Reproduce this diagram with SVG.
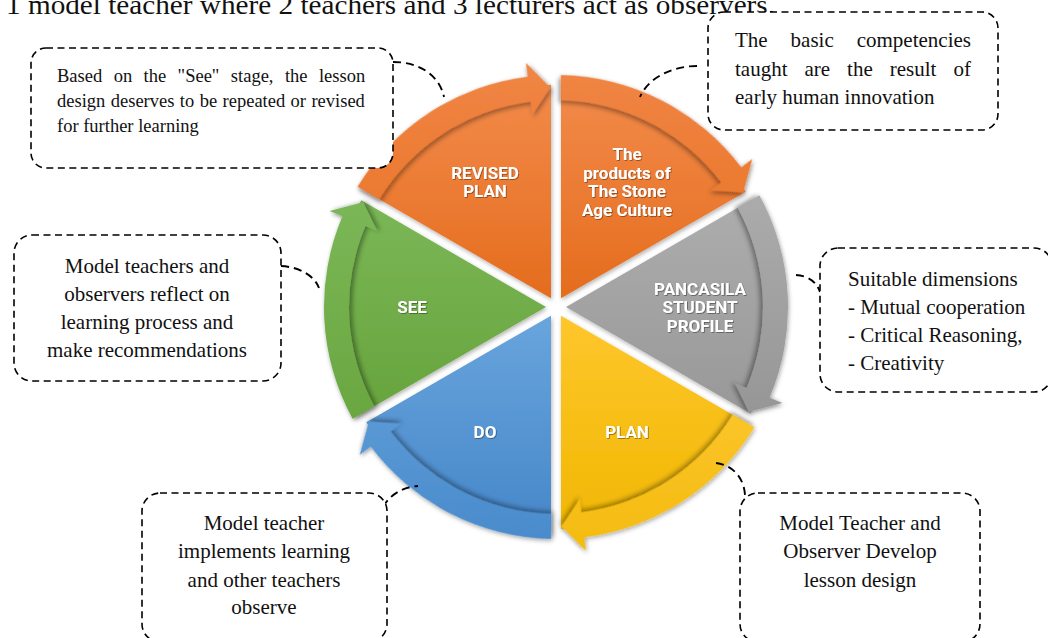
<svg xmlns="http://www.w3.org/2000/svg" xmlns:xlink="http://www.w3.org/1999/xlink" width="1048" height="638" viewBox="0 0 1048 638">
  <style>
    .serif { font-family: "Liberation Serif", "Times New Roman", serif; fill: #111; }
    .lbl { font-family: Roboto, "Open Sans", "DejaVu Sans", sans-serif; font-weight: 700; font-size: 17px; fill: #fff; text-anchor: middle; filter: url(#textShadow); }
    .box { fill: #fff; stroke: #000; stroke-width: 1.6; stroke-dasharray: 7 4.5; }
    .conn { fill: none; stroke: #000; stroke-width: 1.9; stroke-dasharray: 8 5; }
    .mid { text-anchor: middle; }
  </style>
  <defs>
    <!-- one 60 degree slice, bisector along +x, centred on the wheel origin -->
    <path id="wedge" d="M10,0 L194.7,-106.64 A222,222 0 0 1 194.7,106.64 Z"/>
    <!-- curved arrow running clockwise along the slice rim -->
    <path id="band" d="M203.37,-111.64 A232,232 0 0 1 213.56,90.65 L226.44,96.12 L192.9,104.75 L178.58,75.8 L190.54,80.88 A207,207 0 0 0 181.71,-99.14 Z"/>

    <filter id="bandShadow" x="-30%" y="-30%" width="160%" height="160%">
      <feDropShadow dx="-3" dy="0" stdDeviation="2.5" flood-color="#000" flood-opacity="0.38"/>
    </filter>
    <filter id="wheelShadow" x="-10%" y="-10%" width="120%" height="120%">
      <feDropShadow dx="1" dy="2" stdDeviation="2" flood-color="#000" flood-opacity="0.3"/>
    </filter>
    <filter id="textShadow" x="-10%" y="-30%" width="120%" height="160%">
      <feDropShadow dx="0.8" dy="0.8" stdDeviation="0.6" flood-color="#000" flood-opacity="0.45"/>
    </filter>

    <!-- fills: vertical in page space, counter-rotated per slice -->
    <linearGradient id="wRevised" gradientUnits="userSpaceOnUse" x1="0" y1="-232" x2="0" y2="0" gradientTransform="rotate(120)">
      <stop offset="0" stop-color="#F38C4D"/><stop offset="1" stop-color="#E46B1B"/>
    </linearGradient>
    <linearGradient id="bRevised" gradientUnits="userSpaceOnUse" x1="0" y1="-232" x2="0" y2="0" gradientTransform="rotate(120)">
      <stop offset="0" stop-color="#F08443"/><stop offset="1" stop-color="#E7701F"/>
    </linearGradient>
    <linearGradient id="wProducts" gradientUnits="userSpaceOnUse" x1="0" y1="-232" x2="0" y2="0" gradientTransform="rotate(60)">
      <stop offset="0" stop-color="#F38C4D"/><stop offset="1" stop-color="#E46B1B"/>
    </linearGradient>
    <linearGradient id="bProducts" gradientUnits="userSpaceOnUse" x1="0" y1="-232" x2="0" y2="0" gradientTransform="rotate(60)">
      <stop offset="0" stop-color="#F08443"/><stop offset="1" stop-color="#E7701F"/>
    </linearGradient>
    <linearGradient id="wGray" gradientUnits="userSpaceOnUse" x1="0" y1="-120" x2="0" y2="120">
      <stop offset="0" stop-color="#AEAEAE"/><stop offset="1" stop-color="#979797"/>
    </linearGradient>
    <linearGradient id="bGray" gradientUnits="userSpaceOnUse" x1="0" y1="-120" x2="0" y2="120">
      <stop offset="0" stop-color="#ACACAC"/><stop offset="1" stop-color="#959595"/>
    </linearGradient>
    <linearGradient id="wYellow" gradientUnits="userSpaceOnUse" x1="0" y1="0" x2="0" y2="232" gradientTransform="rotate(-60)">
      <stop offset="0" stop-color="#FFC72E"/><stop offset="1" stop-color="#F0B700"/>
    </linearGradient>
    <linearGradient id="bYellow" gradientUnits="userSpaceOnUse" x1="0" y1="0" x2="0" y2="232" gradientTransform="rotate(-60)">
      <stop offset="0" stop-color="#FFCB40"/><stop offset="1" stop-color="#F5BC10"/>
    </linearGradient>
    <linearGradient id="wBlue" gradientUnits="userSpaceOnUse" x1="0" y1="0" x2="0" y2="232" gradientTransform="rotate(-120)">
      <stop offset="0" stop-color="#6AA6DE"/><stop offset="1" stop-color="#4586C8"/>
    </linearGradient>
    <linearGradient id="bBlue" gradientUnits="userSpaceOnUse" x1="0" y1="0" x2="0" y2="232" gradientTransform="rotate(-120)">
      <stop offset="0" stop-color="#68A5DD"/><stop offset="1" stop-color="#4A8BCC"/>
    </linearGradient>
    <linearGradient id="wGreen" gradientUnits="userSpaceOnUse" x1="0" y1="-120" x2="0" y2="120" gradientTransform="rotate(-180)">
      <stop offset="0" stop-color="#7CB858"/><stop offset="1" stop-color="#66A33C"/>
    </linearGradient>
    <linearGradient id="bGreen" gradientUnits="userSpaceOnUse" x1="0" y1="-120" x2="0" y2="120" gradientTransform="rotate(-180)">
      <stop offset="0" stop-color="#7CB858"/><stop offset="1" stop-color="#69A640"/>
    </linearGradient>
  </defs>

  <rect x="0" y="0" width="1048" height="638" fill="#fff"/>

  <text class="serif" x="6" y="13.5" font-size="28" textLength="769" lengthAdjust="spacingAndGlyphs">1 model teacher where 2 teachers and 3 lecturers act as observers.</text>

  <!-- cycle wheel -->
  <g id="wheel" filter="url(#wheelShadow)">
    <g id="node-revised-plan">
      <g transform="translate(556 307) rotate(-120)">
        <use href="#wedge" fill="url(#wRevised)"/>
        <use href="#band" fill="url(#bRevised)" filter="url(#bandShadow)"/>
      </g>
      <text class="lbl" x="485" y="179">REVISED</text>
      <text class="lbl" x="485" y="197">PLAN</text>
    </g>
    <g id="node-stone-age">
      <g transform="translate(556 307) rotate(-60)">
        <use href="#wedge" fill="url(#wProducts)"/>
        <use href="#band" fill="url(#bProducts)" filter="url(#bandShadow)"/>
      </g>
      <text class="lbl" x="627" y="160">The</text>
      <text class="lbl" x="627" y="179">products of</text>
      <text class="lbl" x="627" y="197">The Stone</text>
      <text class="lbl" x="627" y="216">Age Culture</text>
    </g>
    <g id="node-pancasila">
      <g transform="translate(556 307)">
        <use href="#wedge" fill="url(#wGray)"/>
        <use href="#band" fill="url(#bGray)" filter="url(#bandShadow)"/>
      </g>
      <text class="lbl" x="700" y="295">PANCASILA</text>
      <text class="lbl" x="700" y="313">STUDENT</text>
      <text class="lbl" x="700" y="332">PROFILE</text>
    </g>
    <g id="node-plan">
      <g transform="translate(556 307) rotate(60)">
        <use href="#wedge" fill="url(#wYellow)"/>
        <use href="#band" fill="url(#bYellow)" filter="url(#bandShadow)"/>
      </g>
      <text class="lbl" x="627" y="438">PLAN</text>
    </g>
    <g id="node-do">
      <g transform="translate(556 307) rotate(120)">
        <use href="#wedge" fill="url(#wBlue)"/>
        <use href="#band" fill="url(#bBlue)" filter="url(#bandShadow)"/>
      </g>
      <text class="lbl" x="485" y="438">DO</text>
    </g>
    <g id="node-see">
      <g transform="translate(556 307) rotate(180)">
        <use href="#wedge" fill="url(#wGreen)"/>
        <use href="#band" fill="url(#bGreen)" filter="url(#bandShadow)"/>
      </g>
      <text class="lbl" x="412" y="313">SEE</text>
    </g>
  </g>

  <!-- dashed leader lines from the notes to the slices -->
  <g id="connectors">
    <path class="conn" d="M393,62 C418,62 439,74 444,97"/>
    <path class="conn" d="M281,266 C299,267 314,275 319,288"/>
    <path class="conn" d="M697,66 C672,66 648,78 640,97"/>
    <path class="conn" d="M796,275 C808,276 816,281 820,292"/>
    <path class="conn" d="M383,507 C390,495 402,487 418,486"/>
    <path class="conn" d="M716,463 C733,465 744,478 745,495"/>
  </g>

  <!-- notes -->
  <g id="note-revised">
    <rect class="box" x="31" y="48" width="362" height="120" rx="15"/>
    <text class="serif" font-size="18.5" x="57" y="82" word-spacing="6.8">Based on the "See" stage, the lesson</text>
    <text class="serif" font-size="18.5" x="57" y="107" word-spacing="0.8">design deserves to be repeated or revised</text>
    <text class="serif" font-size="18.5" x="57" y="132">for further learning</text>
  </g>
  <g id="note-see">
    <rect class="box" x="14" y="235" width="267" height="146" rx="18"/>
    <text class="serif mid" font-size="21" x="147" y="273">Model teachers and</text>
    <text class="serif mid" font-size="21" x="147" y="301">observers reflect on</text>
    <text class="serif mid" font-size="21" x="147" y="329">learning process and</text>
    <text class="serif mid" font-size="21" x="147" y="357">make recommendations</text>
  </g>
  <g id="note-stone-age">
    <rect class="box" x="708" y="12" width="290" height="118" rx="16"/>
    <text class="serif" font-size="21" x="735" y="47" word-spacing="17.7">The basic competencies</text>
    <text class="serif" font-size="21" x="735" y="76" word-spacing="11.75">taught are the result of</text>
    <text class="serif" font-size="21" x="735" y="104">early human innovation</text>
  </g>
  <g id="note-pancasila">
    <rect class="box" x="820" y="248" width="232" height="144" rx="18"/>
    <text class="serif" font-size="21" x="848" y="286">Suitable dimensions</text>
    <text class="serif" font-size="21" x="848" y="314">- Mutual cooperation</text>
    <text class="serif" font-size="21" x="848" y="342">- Critical Reasoning,</text>
    <text class="serif" font-size="21" x="848" y="370">- Creativity</text>
  </g>
  <g id="note-do">
    <rect class="box" x="142" y="493" width="245" height="149" rx="18"/>
    <text class="serif mid" font-size="21" x="264" y="530">Model teacher</text>
    <text class="serif mid" font-size="21" x="264" y="558">implements learning</text>
    <text class="serif mid" font-size="21" x="264" y="587">and other teachers</text>
    <text class="serif mid" font-size="21" x="264" y="614">observe</text>
  </g>
  <g id="note-plan">
    <rect class="box" x="740" y="493" width="240" height="149" rx="18"/>
    <text class="serif mid" font-size="21" x="860" y="530">Model Teacher and</text>
    <text class="serif mid" font-size="21" x="860" y="558">Observer Develop</text>
    <text class="serif mid" font-size="21" x="860" y="587">lesson design</text>
  </g>
</svg>
